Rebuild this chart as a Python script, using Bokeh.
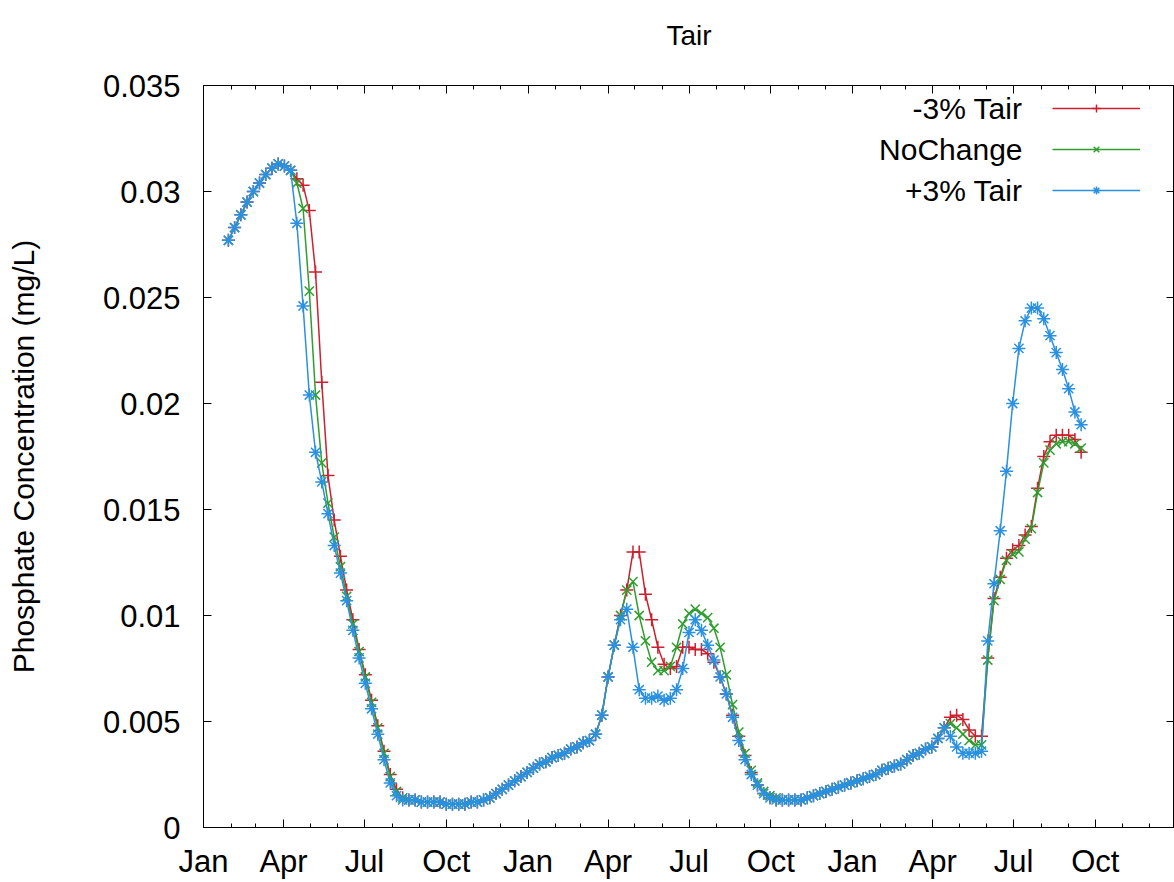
import pandas as pd
from bokeh.plotting import figure
from bokeh.models import (FixedTicker, DatetimeTickFormatter, NumeralTickFormatter,
                          DatetimeAxis, LinearAxis, Legend, LegendItem, Label, Range1d,
                          CustomJSTickFormatter)
from bokeh.embed import file_html
from bokeh.resources import INLINE

# ---------------- data ----------------
title_text = "Tair"
y_label = "Phosphate Concentration (mg/L)"
series_names = ["-3% Tair", "NoChange", "+3% Tair"]
first_week = "2001-01-29"
n_weeks = 138
dates = pd.date_range(first_week, periods=n_weeks, freq="7D")

minus3 = [
    .0277, .0283, .0289, .0295, .0300, .0304, .0308, .0311, .0313, .0312,
    .0310, .0306, .0303, .0291, .0262, .0210, .0166, .0145, .0128, .0112,
    .0098, .0084, .0072, .0060, .0048, .0036, .0025, .0018, .0014, .0013,
    .0013, .0012, .0012, .0012, .0012, .0011, .0011, .0011, .0011, .0012,
    .0012, .0013, .0014, .0016, .0018, .0020, .0022, .0024, .0026, .0028,
    .0030, .0031, .0033, .0034, .0035, .0037, .0038, .0040, .0041, .0044,
    .0053, .0071, .0086, .0100, .0112, .0130, .0130, .0110, .0098, .0085,
    .0077, .0075, .0076, .0085, .0085, .0084, .0084, .0082, .0078, .0071,
    .0063, .0053, .0043, .0034, .0026, .0020, .0016, .0014, .0013, .0013,
    .0013, .0013, .0013, .0014, .0015, .0016, .0017, .0018, .0019, .0020,
    .0021, .0022, .0023, .0024, .0025, .0027, .0028, .0029, .0030, .0032,
    .0034, .0035, .0037, .0038, .0042, .0047, .0052, .0053, .0051, .0046,
    .0043, .0043, .0080, .0108, .0118, .0127, .0131, .0133, .0138, .0142,
    .0160, .0175, .0182, .0185, .0185, .0185, .0183, .0177,
]

nochange = [
    .0277, .0283, .0289, .0295, .0300, .0304, .0308, .0311, .0313, .0312,
    .0310, .0304, .0292, .0253, .0204, .0172, .0153, .0137, .0123, .0109,
    .0096, .0083, .0071, .0059, .0047, .0035, .0024, .0017, .0014, .0013,
    .0013, .0012, .0012, .0012, .0012, .0011, .0011, .0011, .0011, .0012,
    .0012, .0013, .0014, .0016, .0018, .0020, .0022, .0024, .0026, .0028,
    .0030, .0031, .0033, .0034, .0035, .0037, .0038, .0040, .0041, .0044,
    .0053, .0071, .0086, .0100, .0112, .0116, .0100, .0088, .0078, .0074,
    .0074, .0076, .0085, .0096, .0101, .0103, .0101, .0099, .0094, .0085,
    .0072, .0058, .0045, .0035, .0027, .0021, .0017, .0015, .0014, .0013,
    .0013, .0013, .0013, .0014, .0015, .0016, .0017, .0018, .0019, .0020,
    .0021, .0022, .0023, .0024, .0025, .0027, .0028, .0029, .0030, .0032,
    .0034, .0035, .0037, .0038, .0042, .0047, .0049, .0047, .0044, .0041,
    .0039, .0039, .0079, .0107, .0117, .0126, .0129, .0130, .0136, .0141,
    .0158, .0172, .0178, .0181, .0182, .0182, .0181, .0179,
]

plus3 = [
    .0277, .0283, .0289, .0295, .0300, .0304, .0308, .0311, .0313, .0312,
    .0310, .0285, .0246, .0204, .0177, .0163, .0148, .0133, .0120, .0107,
    .0093, .0080, .0068, .0056, .0044, .0032, .0021, .0015, .0013, .0013,
    .0013, .0012, .0012, .0012, .0012, .0011, .0011, .0011, .0011, .0012,
    .0012, .0013, .0014, .0016, .0018, .0020, .0022, .0024, .0026, .0028,
    .0030, .0031, .0033, .0034, .0035, .0037, .0038, .0040, .0041, .0044,
    .0053, .0071, .0086, .0098, .0103, .0085, .0065, .0061, .0061, .0062,
    .0060, .0061, .0065, .0075, .0092, .0098, .0093, .0086, .0079, .0071,
    .0063, .0052, .0041, .0032, .0025, .0020, .0016, .0014, .0013, .0013,
    .0013, .0013, .0013, .0014, .0015, .0016, .0017, .0018, .0019, .0020,
    .0021, .0022, .0023, .0024, .0025, .0027, .0028, .0029, .0030, .0032,
    .0034, .0035, .0037, .0038, .0042, .0047, .0043, .0038, .0035, .0035,
    .0035, .0036, .0088, .0115, .0140, .0168, .0200, .0226, .0239, .0245,
    .0245, .0240, .0232, .0224, .0216, .0207, .0196, .0190,
]

series_values = [minus3, nochange, plus3]
series_colors = ["#cc2030", "#2f9e2f", "#2a90e0"]
series_markers = ["cross", "x", "asterisk"]

x_start, x_end = "2001-01-01", "2003-12-29"
quarter_ticks = pd.date_range("2001-01-01", "2004-01-01", freq="QS")
month_ticks = pd.date_range("2001-01-01", "2004-01-01", freq="MS")
y_ticks = [0, 0.005, 0.01, 0.015, 0.02, 0.025, 0.03, 0.035]
y_min, y_max = 0, 0.035

FONT = "Liberation Sans"

# ---------------- figure ----------------
p = figure(width=1174, height=882, output_backend="svg", toolbar_location=None,
           x_axis_type="datetime",
           x_range=Range1d(pd.Timestamp(x_start), pd.Timestamp(x_end)),
           y_range=Range1d(y_min, y_max),
           min_border_left=203, min_border_right=0, min_border_top=85, min_border_bottom=55)
p.xgrid.visible = False
p.ygrid.visible = False
p.outline_line_color = "black"
p.outline_line_width = 1
p.background_fill_color = "white"
p.border_fill_color = "white"

# a blank second line lifts the title towards the top edge
p.title.text = title_text + "\n "
p.title.align = "center"
p.title.text_font = FONT
p.title.text_font_size = "28px"
p.title.text_font_style = "normal"
p.title.text_color = "black"
p.title.standoff = 8

to_ms = lambda idx: [int(t.value // 10**6) for t in idx]
xticker = FixedTicker(ticks=to_ms(quarter_ticks), minor_ticks=to_ms(month_ticks))
yticker = FixedTicker(ticks=y_ticks, minor_ticks=[])
xfmt = DatetimeTickFormatter(years="%b", months="%b", days="%b", hours="%b")
yfmt = NumeralTickFormatter(format="0.[000]")
blank_fmt = CustomJSTickFormatter(code="return ''")

def style_axis(ax, labels=True):
    ax.axis_line_color = "black"
    ax.major_tick_line_color = "black"
    ax.minor_tick_line_color = "black"
    ax.major_tick_in = 8
    ax.major_tick_out = 0
    ax.minor_tick_in = 4
    ax.minor_tick_out = 0
    ax.major_label_text_font = FONT
    ax.major_label_text_color = "black"
    ax.major_label_text_font_size = "31px"
    if not labels:
        ax.major_label_standoff = 0

xa = p.xaxis[0]
xa.ticker = xticker
xa.formatter = xfmt
style_axis(xa)
xa.major_label_standoff = 16

ya = p.yaxis[0]
ya.ticker = yticker
ya.formatter = yfmt
style_axis(ya)
ya.major_label_standoff = 23
ya.axis_label = y_label
ya.axis_label_text_font = FONT
ya.axis_label_text_font_size = "30px"
ya.axis_label_text_font_style = "normal"
ya.axis_label_text_color = "black"
ya.axis_label_standoff = 60

top = DatetimeAxis(ticker=xticker, formatter=blank_fmt)
style_axis(top, labels=False)
p.add_layout(top, "above")
right = LinearAxis(ticker=yticker, formatter=blank_fmt)
style_axis(right, labels=False)
p.add_layout(right, "right")

items = []
for i, (name, vals, col, mk) in enumerate(zip(series_names, series_values, series_colors, series_markers)):
    lr = p.line(dates, vals, line_color=col, line_width=1.5)
    sr = p.scatter(dates, vals, marker=mk, size=13, line_color=col, line_width=1.5, fill_color=None)
    items.append(LegendItem(label=" " * (i + 1), renderers=[lr, sr]))

legend = Legend(items=items, location="top_right", margin=13, padding=0, spacing=21,
                glyph_height=20, glyph_width=88, label_width=21, label_standoff=0,
                label_height=20, border_line_color=None, background_fill_alpha=0,
                label_text_font_size="12px")
p.add_layout(legend)

label_ys = [719, 678, 637]
for name, ly in zip(series_names, label_ys):
    p.add_layout(Label(x=819, y=ly, x_units="screen", y_units="screen", text=name,
                       text_align="right", text_baseline="middle", text_font=FONT,
                       text_font_size="30px", text_color="black"))

open("out.html", "w").write(file_html(p, INLINE))
